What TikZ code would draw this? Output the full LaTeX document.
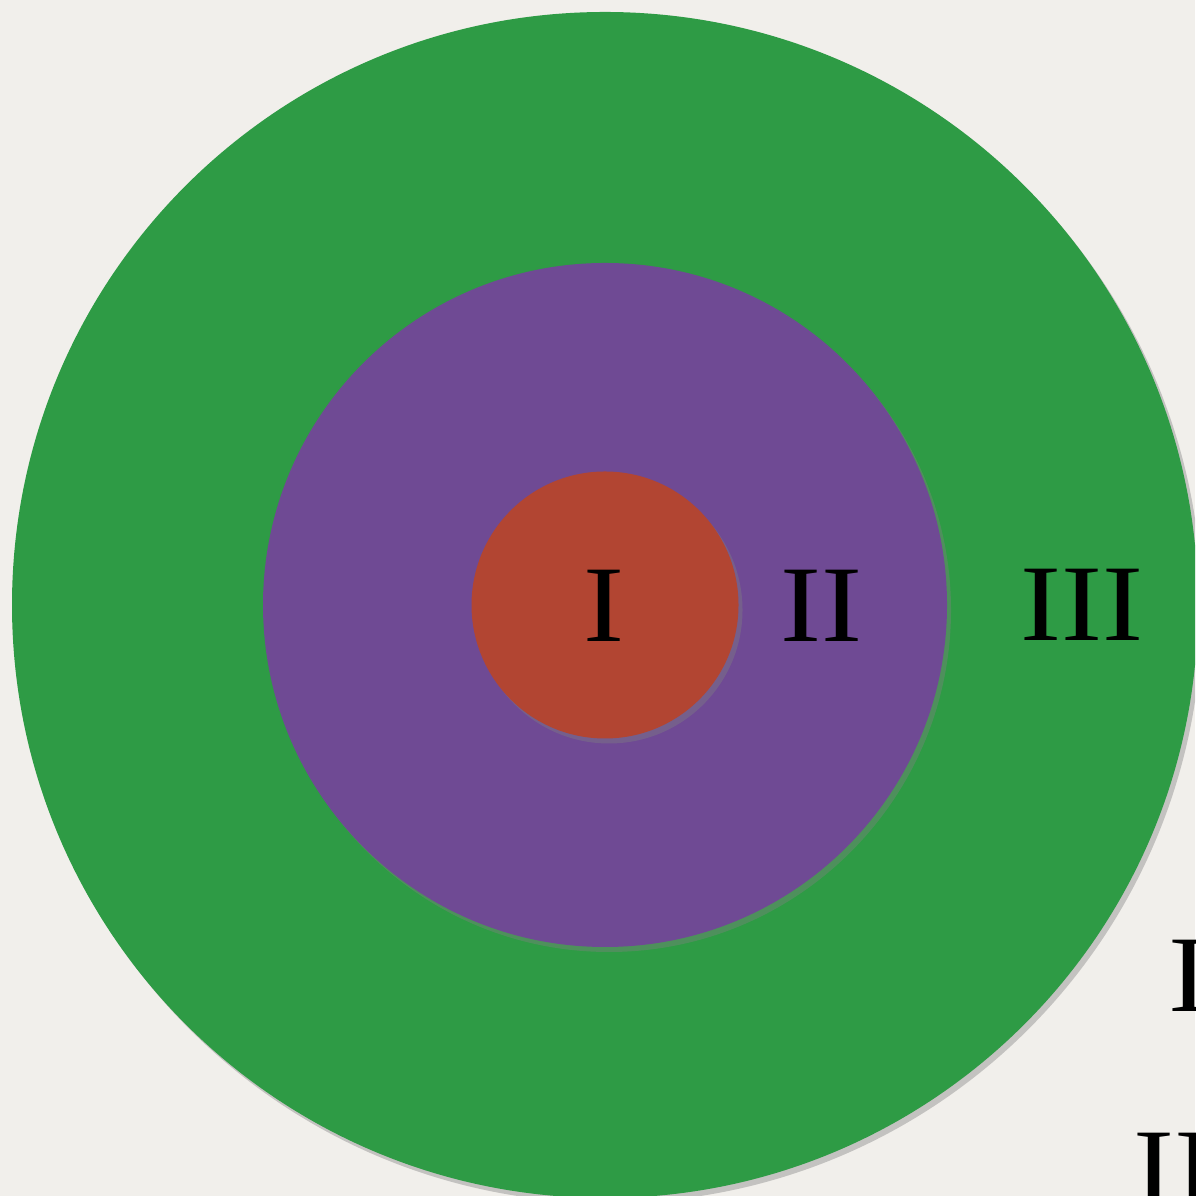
\documentclass[tikz,border=0pt]{standalone}
\usepackage{fontspec}
\setmainfont{Liberation Serif}
\usetikzlibrary{positioning,shadows}
\definecolor{paper}{HTML}{F1EFEB}
\definecolor{ringgreen}{HTML}{2E9B45}
\definecolor{ringpurple}{HTML}{6F4A94}
\definecolor{ringred}{HTML}{B24532}
\newcommand{\wide}[1]{\scalebox{1.13}[1]{#1}}
\begin{document}
\begin{tikzpicture}
  \tikzstyle{disc} = [circle, inner sep=0pt, draw=none,
                      drop shadow={shadow xshift=0.04cm, shadow yshift=-0.05cm, opacity=0.4}]
  \tikzstyle{zone} = [inner sep=0pt, text=black, font=\fontsize{31}{31}\selectfont]
  \clip (0,0) rectangle (11.95,11.96);
  \fill[paper] (0,0) rectangle (11.95,11.96);
  \node[disc, fill=ringgreen, minimum size=11.86cm] (outer) at (6.05,5.91) {};
  \node[disc, fill=ringpurple, minimum size=6.84cm] (middle) at (outer.center) {};
  \node[disc, fill=ringred, minimum size=2.67cm] (core) at (outer.center) {};
  \node[zone] (one) at (6.04,5.90) {\wide{I}};
  \node[zone] (two) at (8.21,5.90) {\wide{II}};
  \node[zone] (three) at (10.82,5.91) {\wide{III}};
  \node[zone, anchor=west] (extraone) at (11.68,2.20) {\wide{I}};
  \node[zone, anchor=west] (extratwo) at (11.33,0.27) {\wide{II}};
\end{tikzpicture}
\end{document}
